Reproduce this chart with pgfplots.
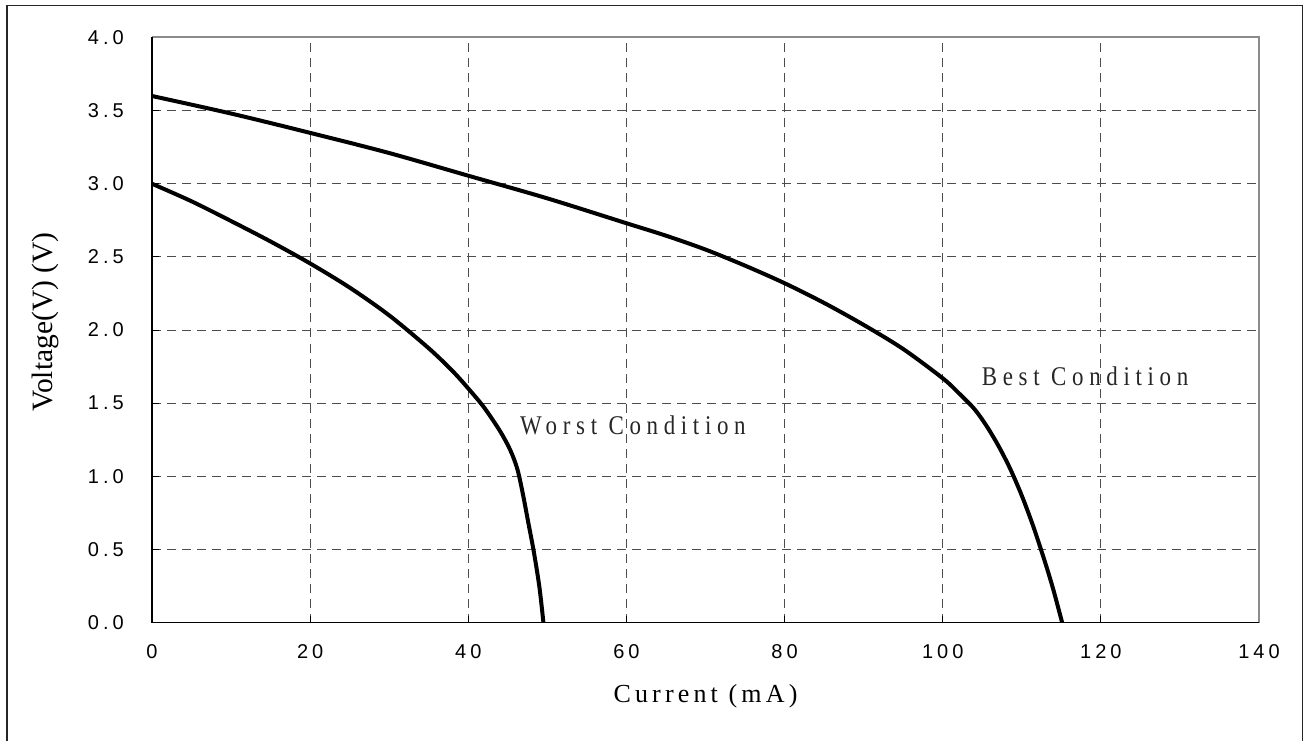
\documentclass[border=0pt]{standalone}
\usepackage{fontspec}
\usepackage{pgfplots}
\pgfplotsset{compat=1.18}
\setmainfont{Liberation Serif}
\newfontfamily\tickfont[LetterSpace=20]{Liberation Sans}
\newfontfamily\labfont[LetterSpace=16]{Liberation Serif}
\newfontfamily\ylabfont{Liberation Serif}
\newfontfamily\curvefont[FakeStretch=0.85,LetterSpace=21]{Liberation Serif}
\begin{document}
\begin{tikzpicture}[x=1pt,y=1pt]
\useasboundingbox (0,0) rectangle (1309,740);
\fill[white] (0,0) rectangle (1309,740);
\draw[black!85, line width=1.5pt] (7,-20) -- (7,734.5) -- (1302.7,734.5) -- (1302.7,-20);
\begin{axis}[
  at={(152pt,117.5pt)}, anchor=south west,
  scale only axis, width=1107pt, height=585pt,
  xmin=0, xmax=140, ymin=0, ymax=4,
  xtick={0,20,...,140}, ytick={0,0.5,...,4},
  tick pos=left, tick align=inside, major tick length=7pt,
  tick style={black, line width=1pt},
  axis line style={draw=none},
  grid=major,
  major grid style={black!70, line width=1pt, dash pattern=on 9pt off 6pt},
  /pgf/number format/assume math mode=true,
  yticklabel={\pgfmathprintnumber[fixed,fixed zerofill,precision=1]{\tick}},
  ticklabel style={font=\tickfont\fontsize{20}{20}\selectfont, inner sep=0pt},
  yticklabel style={anchor=east, xshift=-28pt},
  xticklabel style={anchor=north, yshift=-22pt},
  clip=false,
]
\addplot[black, line width=4pt, smooth, tension=0.5] coordinates {
(0,3.60) (10,3.48) (20,3.348) (30,3.21) (40,3.055) (50,2.90) (60,2.73)
(65,2.645) (70,2.55) (75,2.44) (80,2.32) (85,2.185) (90,2.035) (95,1.87)
(100,1.67) (102,1.57) (104,1.46) (105.5,1.3475) (107,1.2125) (108.5,1.055)
(110,0.8675) (111.5,0.65) (113,0.4025) (114,0.2225) (115.1,0.0)};
\addplot[black, line width=4pt, smooth, tension=0.5] coordinates {
(0,3.00) (5,2.88) (10,2.745) (15,2.605) (20,2.455) (25,2.29) (30,2.10)
(35,1.875) (38,1.72) (40,1.60) (42,1.47) (44,1.31) (45.3,1.18) (46.2,1.05)
(46.9,0.88) (47.6,0.68) (48.3,0.48) (49.0,0.24) (49.5,0.0)};
\draw[black!45, line width=2pt] (rel axis cs:0,1) -- (rel axis cs:1,1) -- (rel axis cs:1,0);
\draw[black, line width=1.2pt] (rel axis cs:0,1) -- (rel axis cs:0,0) -- (rel axis cs:1,0);
\end{axis}
\node[anchor=base, rotate=90, inner sep=0pt, font=\ylabfont\fontsize{29.5}{29.5}\selectfont] at (52,418) {Voltage(V) (V)};
\node[anchor=base, inner sep=0pt, font=\labfont\fontsize{26}{26}\selectfont] at (705.5,37.7) {Current (mA)};
\node[anchor=base west, inner sep=0pt, text=black!85, font=\curvefont\fontsize{27}{27}\selectfont] at (520,306) {Worst Condition};
\node[anchor=base west, inner sep=0pt, text=black!85, font=\curvefont\fontsize{27}{27}\selectfont] at (981.7,354.3) {Best Condition};
\end{tikzpicture}
\end{document}
